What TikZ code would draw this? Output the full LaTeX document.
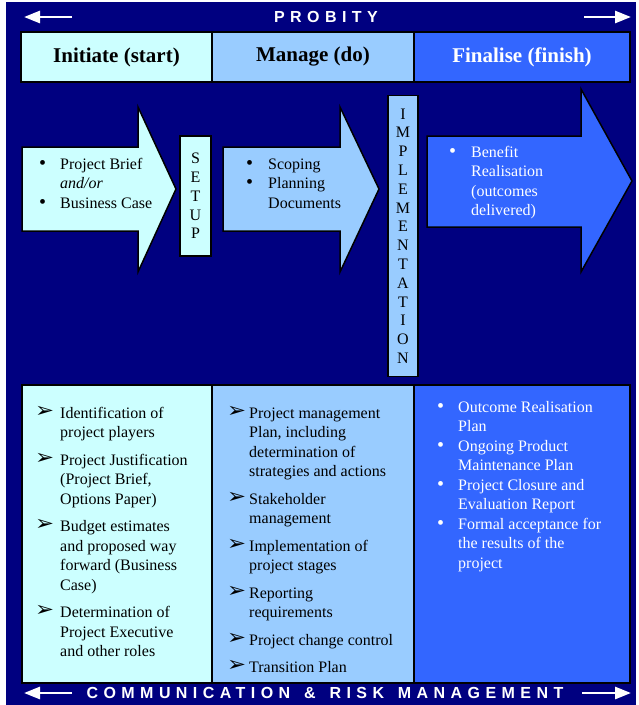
\documentclass[tikz,border=0pt]{standalone}
\usepackage{fontspec}
\setmainfont{Liberation Serif}
\newfontfamily\bannerfont[LetterSpace=34]{Liberation Sans}
\newfontfamily\dingfont{DejaVu Sans}
\usepackage{xcolor}
\usepackage{graphicx}
\usetikzlibrary{arrows.meta}

\definecolor{navyback}{HTML}{000080}
\definecolor{initcol}{HTML}{CCFFFF}
\definecolor{managecol}{HTML}{99CCFF}
\definecolor{finalcol}{HTML}{3366FF}

% hanging list item: indent, bullet
\newcommand{\pitem}[2]{\par\hangindent=#1\hangafter=1\noindent\makebox[#1][l]{#2}\ignorespaces}
\newcommand{\arrbullet}{\raisebox{1pt}{\scalebox{1.08}[1]{\dingfont\fontsize{21}{19.5}\selectfont\char"27A2}}}
\newcommand{\dotbullet}{\scalebox{1.25}{\textbullet}}
% top-aligned block of items, first baseline on the node's base
\newcommand{\itemblock}[3]{\parbox[t]{#1}{\setlength{\parskip}{#2}#3}}

\tikzset{
  panel/.style={draw=black, line width=1.5pt},
  head/.style={font=\fontsize{21}{24}\selectfont\bfseries},
  body/.style={inner sep=0pt, anchor=base west, font=\fontsize{16}{19.5}\selectfont},
  vtext/.style={font=\fontsize{16}{18.8}\selectfont, align=center, inner sep=0pt},
  banner/.style={text=white, font=\bannerfont\bfseries\fontsize{16}{18}\selectfont},
  bannerarrow/.style={white, line width=2.7pt, -{Triangle[length=16pt,width=12pt]}}
}

\begin{document}
\begin{tikzpicture}[x=1pt,y=-1pt]
\useasboundingbox (0,0) rectangle (638,705);
\fill[white] (0,0) rectangle (638,705);
\fill[navyback] (6,2) rectangle (636,705);

% Probity banner
\node[banner] (probity) at (326,17) {PROBITY};
\coordinate (probL) at (24,17);
\coordinate (probLtail) at (72,17);
\coordinate (probR) at (631,17);
\coordinate (probRtail) at (584,17);
\draw[bannerarrow] (probLtail) -- (probL);
\draw[bannerarrow] (probRtail) -- (probR);

% Phase headers
\node[panel, fill=initcol, minimum width=191pt, minimum height=50pt, head] (initiate) at (116.5,57) {Initiate (start)};
\node[panel, fill=managecol, minimum width=202pt, minimum height=50pt, head] (manage) at (313,57) {Manage (do)};
\node[panel, fill=finalcol, minimum width=216pt, minimum height=50pt, head, text=white] (finalise) at (522,57) {Finalise (finish)};

% Process arrows
\draw[panel, fill=initcol] (22,147) -- (138,147) -- (138,107) -- (176,189) -- (138,272) -- (138,231) -- (22,231) -- cycle;
\draw[panel, fill=managecol] (223,147) -- (340,147) -- (340,107) -- (379,189) -- (340,272) -- (340,231) -- (223,231) -- cycle;
\draw[panel, fill=finalcol] (427,136) -- (581,136) -- (581,89) -- (632,181) -- (581,272) -- (581,227) -- (427,227) -- cycle;

\node[body] (brief) at (39,169) {\itemblock{130pt}{0pt}{%
  \pitem{21pt}{\dotbullet}Project Brief\\\textit{and/or}
  \pitem{21pt}{\dotbullet}Business Case}};
\node[body] (scoping) at (246,169) {\itemblock{120pt}{0pt}{%
  \pitem{22pt}{\dotbullet}Scoping
  \pitem{22pt}{\dotbullet}Planning\\Documents}};
\node[body, text=white] (benefit) at (449,157) {\itemblock{120pt}{0pt}{%
  \pitem{22pt}{\dotbullet}Benefit\\Realisation\\(outcomes\\delivered)}};

% Stage bars
\node[panel, fill=initcol, minimum width=31pt, minimum height=120pt, vtext] (setup) at (195.5,196) {S\\E\\T\\U\\P};
\node[panel, fill=managecol, minimum width=30pt, minimum height=281pt, vtext] (implement) at (403,236) {I\\M\\P\\L\\E\\M\\E\\N\\T\\A\\T\\I\\O\\N};

% Activity panels
\draw[panel, fill=initcol] (22,385) rectangle (212,683);
\draw[panel, fill=managecol] (212,385) rectangle (414,683);
\draw[panel, fill=finalcol] (414,385) rectangle (630,683);

\node[body] (startlist) at (35,418) {\itemblock{175pt}{8pt}{%
  \pitem{25pt}{\arrbullet}Identification of\\project players
  \pitem{25pt}{\arrbullet}Project Justification\\(Project Brief,\\Options Paper)
  \pitem{25pt}{\arrbullet}Budget estimates\\and proposed way\\forward (Business\\Case)
  \pitem{25pt}{\arrbullet}Determination of\\Project Executive\\and other roles}};

\node[body] (dolist) at (227,418) {\itemblock{185pt}{8pt}{%
  \pitem{22pt}{\arrbullet}Project management\\Plan, including\\determination of\\strategies and actions
  \pitem{22pt}{\arrbullet}Stakeholder\\management
  \pitem{22pt}{\arrbullet}Implementation of\\project stages
  \pitem{22pt}{\arrbullet}Reporting\\requirements
  \pitem{22pt}{\arrbullet}Project change control
  \pitem{22pt}{\arrbullet}Transition Plan}};

\node[body, text=white] (finishlist) at (437,412) {\itemblock{185pt}{0pt}{%
  \pitem{21pt}{\dotbullet}Outcome Realisation\\Plan
  \pitem{21pt}{\dotbullet}Ongoing Product\\Maintenance Plan
  \pitem{21pt}{\dotbullet}Project Closure and\\Evaluation Report
  \pitem{21pt}{\dotbullet}Formal acceptance for\\the results of the\\project}};

% Communication banner
\node[banner] (commrisk) at (325,693) {COMMUNICATION\hspace{4pt} \&\hspace{4pt} RISK\hspace{4pt} MANAGEMENT};
\coordinate (commL) at (24,693);
\coordinate (commLtail) at (72,693);
\coordinate (commR) at (631,693);
\coordinate (commRtail) at (582,693);
\draw[bannerarrow] (commLtail) -- (commL);
\draw[bannerarrow] (commRtail) -- (commR);
\end{tikzpicture}
\end{document}
